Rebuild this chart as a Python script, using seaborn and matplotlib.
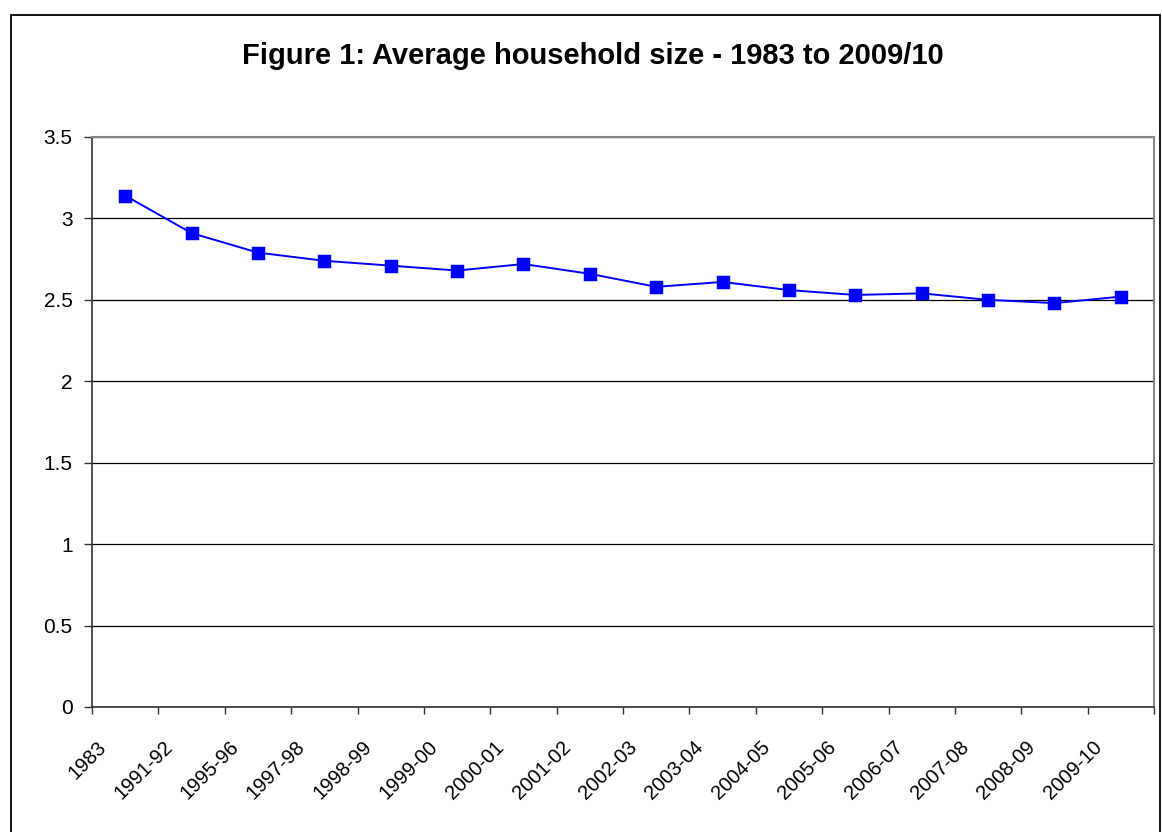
import matplotlib
matplotlib.use("Agg")
import matplotlib.pyplot as plt
import seaborn as sns
import pandas as pd
import numpy as np
from matplotlib.patches import Rectangle

# ---- data ----
periods = ["1983", "1991-92", "1995-96", "1997-98", "1998-99", "1999-00",
           "2000-01", "2001-02", "2002-03", "2003-04", "2004-05", "2005-06",
           "2006-07", "2007-08", "2008-09", "2009-10"]
household_size = [3.14, 2.91, 2.79, 2.74, 2.71, 2.68, 2.72, 2.66,
                  2.58, 2.61, 2.56, 2.53, 2.54, 2.50, 2.48, 2.52]
y_ticks = [0, 0.5, 1, 1.5, 2, 2.5, 3, 3.5]
y_tick_labels = ["0", "0.5", "1", "1.5", "2", "2.5", "3", "3.5"]
title = "Figure 1: Average household size - 1983 to 2009/10"

sns.set_theme(style="white")
plt.rcParams['font.family'] = ['Liberation Sans', 'DejaVu Sans']

W, H = 1162, 832
fig = plt.figure(figsize=(W / 100, H / 100), dpi=100)
fig.patch.set_facecolor("white")
ax = fig.add_axes([92 / W, 1 - 707 / H, (1154 - 92) / W, (707 - 137) / H])

df = pd.DataFrame({"period": periods, "size": household_size})
sns.pointplot(data=df, x="period", y="size", ax=ax, color="#0000FF",
              markers="s", linestyles="-", errorbar=None,
              markersize=8.5, linewidth=1.4, markeredgecolor="#0000FF")

n = len(periods)
ax.set_xlim(-0.5, n - 0.5)
ax.set_ylim(0, 3.5)
# tick marks at category boundaries (no labels)
ax.set_xticks(np.arange(n + 1) - 0.5)
ax.set_xticklabels([""] * (n + 1))
# labels via minor ticks, slightly right of each boundary tick
ax.set_xticks(np.arange(n) - 0.5 + 0.27, minor=True)
ax.set_xticklabels(periods, minor=True, rotation=45, ha="right", va="top",
                   fontsize=14.5, color="black")
ax.set_yticks(y_ticks)
ax.set_yticklabels(y_tick_labels, fontsize=15, color="black")
ax.set_xlabel("")
ax.set_ylabel("")

ax.set_axisbelow(True)
ax.yaxis.grid(True, color="black", linewidth=0.9)
ax.xaxis.grid(False, which="both")

for side in ["left", "bottom"]:
    ax.spines[side].set_color("#333333")
    ax.spines[side].set_linewidth(1.2)
for side in ["top", "right"]:
    ax.spines[side].set_color("#888888")
    ax.spines[side].set_linewidth(1.5)

ax.tick_params(axis="y", direction="out", length=6, width=1, color="#333333",
               pad=8, left=True)
ax.tick_params(axis="x", which="major", direction="out", length=5, width=1,
               color="#333333", bottom=True)
ax.tick_params(axis="x", which="minor", length=0, pad=22, bottom=True)

fig.text(593 / W, 1 - 56 / H, title, ha="center", va="center",
         fontsize=21, fontweight="bold", color="black")

fig.patches.append(Rectangle((11 / W, -0.1), (1160 - 11) / W, (1 - 15 / H) + 0.1,
                             transform=fig.transFigure, fill=False,
                             edgecolor="black", linewidth=1.3))

fig.savefig("out.png", dpi=100, facecolor="white")
